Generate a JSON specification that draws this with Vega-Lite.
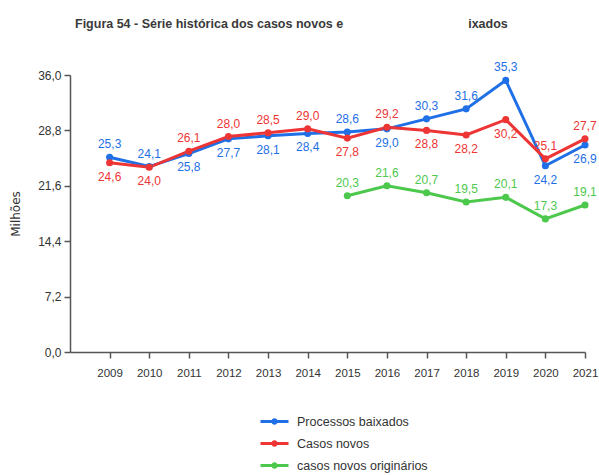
{
  "$schema": "https://vega.github.io/schema/vega-lite/v6.json",
  "width": 515,
  "height": 277,
  "autosize": "none",
  "padding": {"left": 70, "top": 75, "right": 14, "bottom": 123},
  "background": "white",
  "config": {
    "font": "Liberation Sans, Arial, sans-serif",
    "view": {"stroke": null}
  },
  "title": {
    "text": "Figura 54 - Série histórica dos casos novos e\u00a0\u00a0\u00a0\u00a0\u00a0\u00a0\u00a0\u00a0\u00a0\u00a0\u00a0\u00a0\u00a0\u00a0\u00a0\u00a0\u00a0\u00a0\u00a0\u00a0\u00a0\u00a0\u00a0\u00a0\u00a0\u00a0\u00a0\u00a0\u00a0\u00a0\u00a0\u00a0\u00a0\u00a0\u00a0\u00a0ixados",
    "anchor": "start",
    "frame": "group",
    "dx": 5,
    "offset": 31,
    "fontSize": 12.5,
    "fontWeight": "bold",
    "color": "#3a3a3a"
  },
  "data": {
    "values": [
      {"ano": 2009, "Processos baixados": 25.3, "Casos novos": 24.6, "casos novos originários": null},
      {"ano": 2010, "Processos baixados": 24.1, "Casos novos": 24.0, "casos novos originários": null},
      {"ano": 2011, "Processos baixados": 25.8, "Casos novos": 26.1, "casos novos originários": null},
      {"ano": 2012, "Processos baixados": 27.7, "Casos novos": 28.0, "casos novos originários": null},
      {"ano": 2013, "Processos baixados": 28.1, "Casos novos": 28.5, "casos novos originários": null},
      {"ano": 2014, "Processos baixados": 28.4, "Casos novos": 29.0, "casos novos originários": null},
      {"ano": 2015, "Processos baixados": 28.6, "Casos novos": 27.8, "casos novos originários": 20.3},
      {"ano": 2016, "Processos baixados": 29.0, "Casos novos": 29.2, "casos novos originários": 21.6},
      {"ano": 2017, "Processos baixados": 30.3, "Casos novos": 28.8, "casos novos originários": 20.7},
      {"ano": 2018, "Processos baixados": 31.6, "Casos novos": 28.2, "casos novos originários": 19.5},
      {"ano": 2019, "Processos baixados": 35.3, "Casos novos": 30.2, "casos novos originários": 20.1},
      {"ano": 2020, "Processos baixados": 24.2, "Casos novos": 25.1, "casos novos originários": 17.3},
      {"ano": 2021, "Processos baixados": 26.9, "Casos novos": 27.7, "casos novos originários": 19.1}
    ]
  },
  "transform": [
    {"fold": ["Processos baixados", "Casos novos", "casos novos originários"], "as": ["serie", "valor"]},
    {"filter": "isValid(datum.valor)"},
    {"calculate": "datum.serie == 'Processos baixados' ? datum['Processos baixados'] > datum['Casos novos'] : datum.serie == 'Casos novos' ? datum['Casos novos'] > datum['Processos baixados'] : true", "as": "acima"},
    {"calculate": "replace(format(datum.valor, '.1f'), '.', ',')", "as": "rotulo"}
  ],
  "encoding": {
    "x": {
      "field": "ano",
      "type": "quantitative",
      "scale": {"domain": [2008, 2021], "nice": false, "zero": false},
      "axis": {
        "title": null,
        "values": [2009, 2010, 2011, 2012, 2013, 2014, 2015, 2016, 2017, 2018, 2019, 2020, 2021],
        "format": "d",
        "grid": false,
        "domainColor": "#555555",
        "domainWidth": 1.5,
        "tickColor": "#555555",
        "tickWidth": 1.5,
        "tickSize": 6,
        "labelPadding": 9,
        "labelFontSize": 11.5,
        "labelColor": "#333333",
        "labelFlush": false
      }
    },
    "y": {
      "field": "valor",
      "type": "quantitative",
      "scale": {"domain": [0, 36], "nice": false},
      "axis": {
        "title": "Milhões",
        "titleFont": "DejaVu Sans",
        "titleFontSize": 12,
        "titleFontWeight": "normal",
        "titleColor": "#333333",
        "titlePadding": 15,
        "values": [0, 7.2, 14.4, 21.6, 28.8, 36],
        "labelExpr": "replace(format(datum.value, '.1f'), '.', ',')",
        "grid": false,
        "domainColor": "#555555",
        "domainWidth": 1.5,
        "tickColor": "#555555",
        "tickWidth": 1.5,
        "tickSize": 6,
        "labelPadding": 3,
        "labelFontSize": 12,
        "labelColor": "#333333"
      }
    },
    "color": {
      "field": "serie",
      "type": "nominal",
      "scale": {
        "domain": ["Processos baixados", "Casos novos", "casos novos originários"],
        "range": ["#1f6fe6", "#ee3535", "#4cc94c"]
      },
      "legend": {
        "title": null,
        "orient": "none",
        "legendX": 196,
        "legendY": 338,
        "direction": "vertical",
        "symbolType": "M-2,0H2M-0.25,0A0.25,0.25,0,1,1,0.25,0A0.25,0.25,0,1,1,-0.25,0",
        "symbolSize": 196,
        "symbolStrokeWidth": 3,
        "labelOffset": 14,
        "labelFontSize": 12.5,
        "labelColor": "#333333",
        "rowPadding": 5
      }
    }
  },
  "layer": [
    {
      "mark": {"type": "line", "strokeWidth": 3, "point": {"filled": true, "size": 50}}
    },
    {
      "transform": [{"filter": "datum.acima"}],
      "mark": {"type": "text", "dy": -13, "fontSize": 12, "baseline": "middle"},
      "encoding": {"text": {"field": "rotulo"}}
    },
    {
      "transform": [{"filter": "!datum.acima"}],
      "mark": {"type": "text", "dy": 14, "fontSize": 12, "baseline": "middle"},
      "encoding": {"text": {"field": "rotulo"}}
    }
  ]
}
